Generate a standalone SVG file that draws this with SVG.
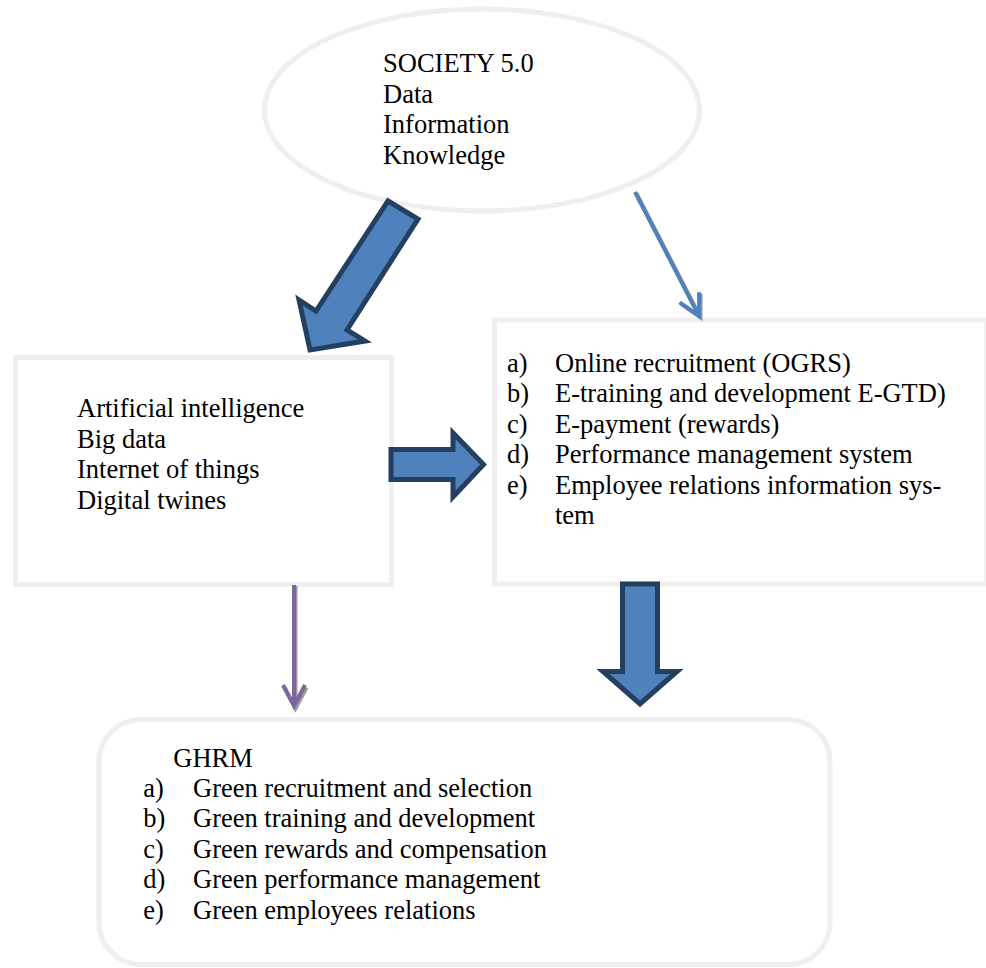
<svg xmlns="http://www.w3.org/2000/svg" width="986" height="968" viewBox="0 0 986 968">
<style>
  .box { fill: #ffffff; stroke: #efefef; stroke-width: 5; }
  .t { font-family: "Liberation Serif", "Times New Roman", serif; font-size: 26.5px; fill: #000000; }
  .block { fill: #4f81bd; stroke: #243f60; stroke-width: 5; stroke-linejoin: miter; }
  .thinBlue { fill: none; stroke: #4f81bd; stroke-width: 4; }
  .thinPurple { fill: none; stroke: #8064a2; stroke-width: 4; }
  .shadow { fill: none; stroke: #9a9a9a; stroke-width: 4; }
</style>
<defs>
  <marker id="headBlue" markerUnits="userSpaceOnUse" orient="auto" markerWidth="30" markerHeight="30" refX="22" refY="12" viewBox="0 0 30 24" overflow="visible">
    <path d="M1,1 L22,12 L1,23" fill="none" stroke="#4f81bd" stroke-width="4"/>
  </marker>
  <marker id="headPurple" markerUnits="userSpaceOnUse" orient="auto" markerWidth="30" markerHeight="30" refX="22" refY="12" viewBox="0 0 30 24" overflow="visible">
    <path d="M1,1 L22,12 L1,23" fill="none" stroke="#8064a2" stroke-width="4"/>
  </marker>
  <marker id="headShadow" markerUnits="userSpaceOnUse" orient="auto" markerWidth="30" markerHeight="30" refX="22" refY="12" viewBox="0 0 30 24" overflow="visible">
    <path d="M1,1 L22,12 L1,23" fill="none" stroke="#9a9a9a" stroke-width="4"/>
  </marker>
</defs>
<rect width="986" height="968" fill="#ffffff"/>

<g id="society">
  <ellipse class="box" cx="482" cy="110" rx="217.5" ry="101"/>
  <text class="t" x="383" y="72">SOCIETY 5.0</text>
  <text class="t" x="383" y="102.5">Data</text>
  <text class="t" x="383" y="133">Information</text>
  <text class="t" x="383" y="163.5">Knowledge</text>
</g>

<g id="technologies">
  <rect class="box" x="15.5" y="357.5" width="376" height="227"/>
  <text class="t" x="77" y="417.3">Artificial intelligence</text>
  <text class="t" x="77" y="447.6">Big data</text>
  <text class="t" x="77" y="478.3">Internet of things</text>
  <text class="t" x="77" y="509.3">Digital twines</text>
</g>

<g id="ehrm">
  <rect class="box" x="494.5" y="320" width="492" height="264"/>
  <text class="t" x="507" y="371.7">a)</text><text class="t" x="555" y="371.7">Online recruitment (OGRS)</text>
  <text class="t" x="507" y="401.9">b)</text><text class="t" x="555" y="401.9">E-training and development E-GTD)</text>
  <text class="t" x="507" y="432.7">c)</text><text class="t" x="555" y="432.7">E-payment (rewards)</text>
  <text class="t" x="507" y="463.3">d)</text><text class="t" x="555" y="463.3">Performance management system</text>
  <text class="t" x="507" y="494">e)</text><text class="t" x="555" y="494">Employee relations information sys-</text>
  <text class="t" x="555" y="524.3">tem</text>
</g>

<g id="ghrm">
  <rect class="box" x="99" y="719.5" width="731" height="245" rx="42" ry="42"/>
  <text class="t" x="173.3" y="766.7">GHRM</text>
  <text class="t" x="143.3" y="796.8">a)</text><text class="t" x="193" y="796.8">Green recruitment and selection</text>
  <text class="t" x="143.3" y="827.3">b)</text><text class="t" x="193" y="827.3">Green training and development</text>
  <text class="t" x="143.3" y="858">c)</text><text class="t" x="193" y="858">Green rewards and compensation</text>
  <text class="t" x="143.3" y="888.4">d)</text><text class="t" x="193" y="888.4">Green performance management</text>
  <text class="t" x="143.3" y="918.6">e)</text><text class="t" x="193" y="918.6">Green employees relations</text>
</g>

<g id="connectors">
  <polygon class="block" points="388,201 418,219 347,330 365,341 310,350 299,300 316,311"/>
  <line class="shadow" x1="636.5" y1="193.5" x2="700.5" y2="317.5" marker-end="url(#headShadow)"/>
  <line class="thinBlue" x1="635" y1="192" x2="699" y2="316" marker-end="url(#headBlue)"/>
  <polygon class="block" points="391,449.5 453,449.5 453,433 483.5,464.5 453,497 453,479.5 391,479.5"/>
  <line class="shadow" x1="295.5" y1="586" x2="295.5" y2="708.5" marker-end="url(#headShadow)"/>
  <line class="thinPurple" x1="294" y1="585" x2="294" y2="706" marker-end="url(#headPurple)"/>
  <polygon class="block" points="622.5,584 657.5,584 657.5,671.5 677,671.5 640,704 603,671.5 622.5,671.5"/>
</g>
</svg>
